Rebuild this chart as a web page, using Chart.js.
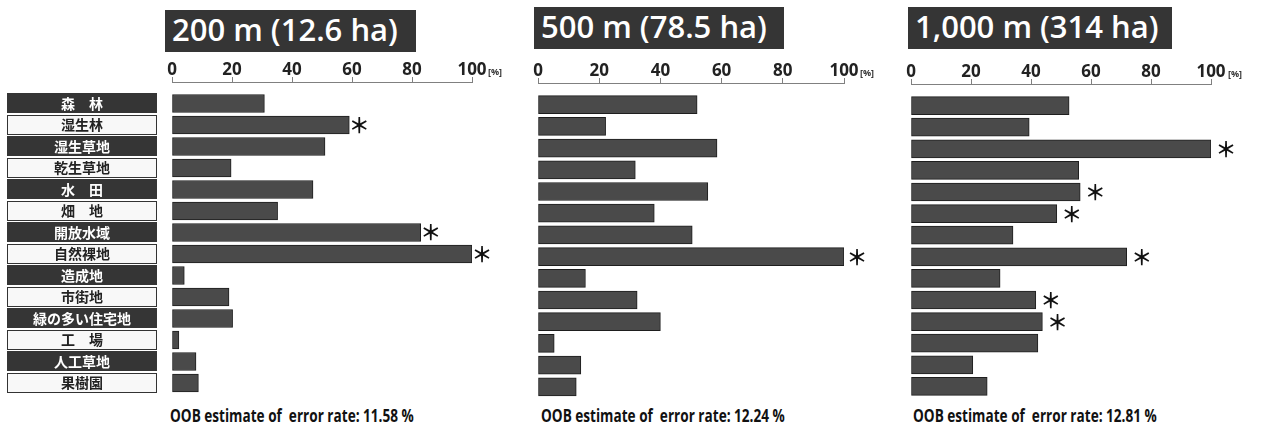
<!DOCTYPE html>
<html lang="ja">
<head>
<meta charset="utf-8">
<title>OOB estimate by buffer size</title>
<script src="https://cdn.jsdelivr.net/npm/chart.js@4.4.1/dist/chart.umd.min.js"></script>
<style>
  html, body { margin: 0; padding: 0; background: #fff; }
  #wrap { position: relative; width: 1283px; height: 429px; overflow: hidden; }
  #wrap canvas { position: absolute; top: 0; }
  .title {
    position: absolute; height: 42px; box-sizing: border-box; padding-left: 7px;
    background: #353535; color: #fff; white-space: nowrap;
    font: 600 31px 'Open Sans', sans-serif; line-height: 39px;
  }
  .oob {
    position: absolute; top: 405px; white-space: pre; color: #111;
    font: 700 18px 'Open Sans', sans-serif; line-height: 20px;
    transform: scaleX(0.755); transform-origin: left top;
  }
</style>
</head>
<body>
<div id="wrap"></div>
<script>
// categories (top to bottom)
const categories = ['森　林', '湿生林', '湿生草地', '乾生草地', '水　田', '畑　地', '開放水域',
  '自然裸地', '造成地', '市街地', '緑の多い住宅地', '工　場', '人工草地', '果樹園'];
const xTicks = [0, 20, 40, 60, 80, 100];

// importance [%] per buffer size
const values200 = [30.8, 59.1, 51.0, 19.7, 47.0, 35.2, 82.9, 100, 4.1, 19.0, 20.2, 2.3, 8.0, 8.8];
const values500 = [52.0, 22.1, 58.5, 31.8, 55.5, 38.0, 50.4, 100, 15.5, 32.4, 40.0, 5.3, 14.0, 12.5];
const values1000 = [52.7, 39.4, 100, 55.9, 56.4, 48.6, 34.0, 71.9, 29.7, 41.6, 43.8, 42.3, 20.6, 25.4];

// indices of bars marked with ＊
const marked200 = [1, 6, 7];
const marked500 = [7];
const marked1000 = [2, 4, 5, 7, 9, 10];

const titles = ['200 m (12.6 ha)', '500 m (78.5 ha)', '1,000 m (314 ha)'];
const errorRates = ['11.58', '12.24', '12.81'];

// layout stuff
const H = 429;
const AXIS_H = 28;
const Y_MIN = -1, Y_MAX = 13.5;

const panels = [
  { title: titles[0], values: values200, marks: marked200, rate: errorRates[0],
    left: 0, width: 520, axisLeft: 172, axisWidth: 300, axisY: 82, pitch: 21.5,
    starOffset: 10, pctOffset: 16, titleBox: { x: 165, y: 10, w: 251 }, oobX: 170, showLabels: true },
  { title: titles[1], values: values500, marks: marked500, rate: errorRates[1],
    left: 520, width: 380, axisLeft: 538, axisWidth: 306, axisY: 83, pitch: 21.7,
    starOffset: 13, pctOffset: 16, titleBox: { x: 534, y: 7, w: 250 }, oobX: 541, showLabels: false },
  { title: titles[2], values: values1000, marks: marked1000, rate: errorRates[2],
    left: 890, width: 393, axisLeft: 911, axisWidth: 300, axisY: 84, pitch: 21.6,
    starOffset: 15, pctOffset: 17, titleBox: { x: 908, y: 7, w: 264 }, oobX: 913, showLabels: false }
];

// alternating dark / light boxes with the category names
const labelBoxes = {
  id: 'labelBoxes',
  afterDraw(chart) {
    const ctx = chart.ctx;
    const y = chart.scales.y;
    ctx.save();
    ctx.font = 'bold 14px "Noto Sans CJK JP", sans-serif';
    ctx.textAlign = 'center';
    ctx.textBaseline = 'middle';
    categories.forEach((name, i) => {
      const cy = y.getPixelForValue(i) - 0.5;
      const top = Math.round(cy - 10);
      if (i % 2 === 0) {
        ctx.fillStyle = '#353535';
        ctx.fillRect(7, top, 150, 20);
        ctx.fillStyle = '#fff';
      } else {
        ctx.fillStyle = '#f8f8f8';
        ctx.fillRect(7, top, 150, 20);
        ctx.strokeStyle = '#333';
        ctx.lineWidth = 1;
        ctx.strokeRect(7.5, top + 0.5, 149, 19);
        ctx.fillStyle = '#222';
      }
      ctx.fillText(name, 82, cy + 0.5);
    });
    ctx.restore();
  }
};

// ＊ marks right of the bars
const starMarks = {
  id: 'starMarks',
  afterDatasetsDraw(chart, args, opts) {
    const ctx = chart.ctx;
    const meta = chart.getDatasetMeta(0);
    ctx.save();
    ctx.font = 'bold 21px "Noto Sans CJK JP", sans-serif';
    ctx.fillStyle = '#111';
    ctx.textAlign = 'center';
    ctx.textBaseline = 'middle';
    opts.marks.forEach(i => {
      const bar = meta.data[i];
      ctx.fillText('＊', bar.x + opts.offset, bar.y);
    });
    ctx.restore();
  }
};

// small [%] unit after the last tick
const unitLabel = {
  id: 'unitLabel',
  afterDraw(chart, args, opts) {
    const ctx = chart.ctx;
    const x = chart.scales.x;
    ctx.save();
    ctx.font = 'bold 9px "Open Sans", sans-serif';
    ctx.fillStyle = '#333';
    ctx.textAlign = 'left';
    ctx.textBaseline = 'middle';
    ctx.fillText('[%]', x.right + opts.offset, x.bottom - 10);
    ctx.restore();
  }
};

const wrap = document.getElementById('wrap');

panels.forEach(p => {
  const title = document.createElement('div');
  title.className = 'title';
  title.style.left = p.titleBox.x + 'px';
  title.style.top = p.titleBox.y + 'px';
  title.style.width = p.titleBox.w + 'px';
  title.textContent = p.title;
  wrap.appendChild(title);

  const oob = document.createElement('div');
  oob.className = 'oob';
  oob.style.left = p.oobX + 'px';
  oob.textContent = 'OOB estimate of  error rate: ' + p.rate + ' %';
  wrap.appendChild(oob);

  const canvas = document.createElement('canvas');
  canvas.width = p.width;
  canvas.height = H;
  canvas.style.left = p.left + 'px';
  wrap.appendChild(canvas);

  const padLeft = p.axisLeft - p.left;
  const padRight = p.width - padLeft - p.axisWidth;
  const padTop = p.axisY - AXIS_H;
  const padBottom = H - p.axisY - (Y_MAX - Y_MIN) * p.pitch;

  new Chart(canvas, {
    type: 'bar',
    data: {
      datasets: [{
        data: p.values.map((v, i) => ({ x: v, y: i })),
        backgroundColor: '#4a4a4a',
        borderColor: '#1e1e1e',
        borderWidth: 1,
        borderSkipped: false,
        barThickness: 18
      }]
    },
    options: {
      indexAxis: 'y',
      responsive: false,
      animation: false,
      layout: { padding: { left: padLeft, right: padRight, top: padTop, bottom: padBottom } },
      scales: {
        x: {
          type: 'linear',
          position: 'top',
          min: 0,
          max: 100,
          afterBuildTicks: s => { s.ticks = xTicks.map(v => ({ value: v })); },
          afterFit: s => { s.height = AXIS_H; },
          ticks: {
            color: '#222',
            padding: -2,
            maxRotation: 0,
            font: { family: 'Open Sans', weight: 'bold', size: 17, lineHeight: 1 }
          },
          grid: { drawOnChartArea: false, drawTicks: true, tickLength: 5, color: '#808080' },
          border: { display: true, color: '#808080', width: 1 }
        },
        y: {
          type: 'linear',
          reverse: true,
          offset: false,
          min: Y_MIN,
          max: Y_MAX,
          display: false
        }
      },
      plugins: {
        legend: { display: false },
        tooltip: { enabled: false },
        starMarks: { marks: p.marks, offset: p.starOffset },
        unitLabel: { offset: p.pctOffset }
      }
    },
    plugins: p.showLabels ? [labelBoxes, starMarks, unitLabel] : [starMarks, unitLabel]
  });
});
</script>
</body>
</html>
